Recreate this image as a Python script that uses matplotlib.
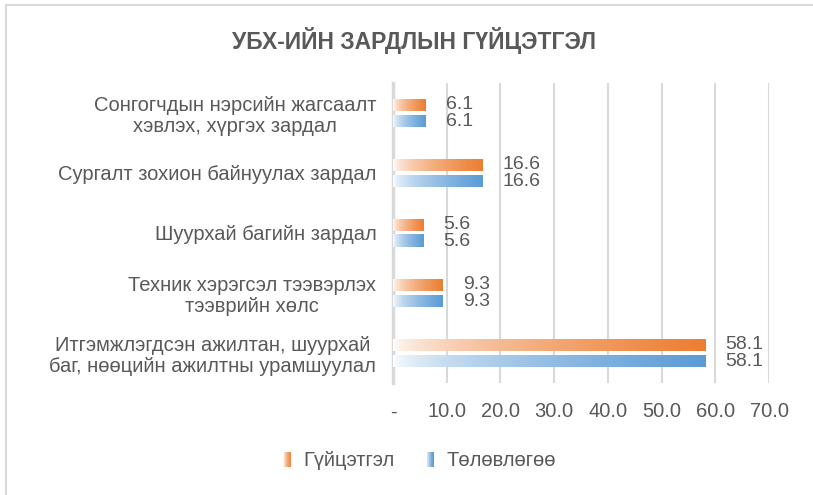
import matplotlib.pyplot as plt
import numpy as np
from matplotlib.colors import to_rgb
from matplotlib.patches import Rectangle
from matplotlib.legend_handler import HandlerBase
from matplotlib.lines import Line2D

plt.rcParams['font.family'] = ['Liberation Sans', 'DejaVu Sans']

categories = [
    'Сонгогчдын нэрсийн жагсаалт\nхэвлэх, хүргэх зардал',
    'Сургалт зохион байнуулах зардал',
    'Шуурхай багийн зардал',
    'Техник хэрэгсэл тээвэрлэх\nтээврийн хөлс',
    'Итгэмжлэгдсэн ажилтан, шуурхай\nбаг, нөөцийн ажилтны урамшуулал',
]
actual = [6.1, 16.6, 5.6, 9.3, 58.1]      # Гүйцэтгэл
planned = [6.1, 16.6, 5.6, 9.3, 58.1]     # Төлөвлөгөө
xticks = [0, 10, 20, 30, 40, 50, 60, 70]
xtick_labels = ['-', '10.0', '20.0', '30.0', '40.0', '50.0', '60.0', '70.0']

ORANGE = '#ED7D31'
BLUE = '#5B9BD5'
TEXT = '#595959'
GRID = '#D9D9D9'
FS = 14.5


def gradient(color, n=256):
    t = np.linspace(0, 1, n) ** 0.6
    c = np.array(to_rgb(color))
    rgb = np.ones(3)[None, :] * (1 - t[:, None]) + c[None, :] * t[:, None]
    return rgb[None, :, :]


class GradHandler(HandlerBase):
    def create_artists(self, legend, orig, xd, yd, w, h, fs, trans):
        col = orig.get_facecolor()
        n = 8
        arts = []
        for i in range(n):
            t = ((i + 1) / n) ** 0.6
            c = np.ones(3) * (1 - t) + np.array(col[:3]) * t
            arts.append(Rectangle((xd + i * w / n, yd), w / n, h,
                                  fc=c, ec='none', transform=trans))
        return arts


fig = plt.figure(figsize=(8.13, 4.95), dpi=100)
ax = fig.add_axes([393 / 813, 1 - 383 / 495, (769 - 393) / 813, 300 / 495])

y = np.arange(len(categories))
bh = 0.2
off = 0.135
for i in range(len(categories)):
    yo = y[i] - off
    yb = y[i] + off
    ax.imshow(gradient(ORANGE), extent=[0, actual[i], yo + bh / 2, yo - bh / 2],
              aspect='auto', interpolation='bilinear', zorder=3)
    ax.imshow(gradient(BLUE), extent=[0, planned[i], yb + bh / 2, yb - bh / 2],
              aspect='auto', interpolation='bilinear', zorder=3)
    ax.text(actual[i] + 3.7, yo, f'{actual[i]:.1f}', va='center', ha='left',
            fontsize=FS - 0.5, color=TEXT)
    ax.text(planned[i] + 3.7, yb, f'{planned[i]:.1f}', va='center', ha='left',
            fontsize=FS - 0.5, color=TEXT)

ax.set_xlim(0, 70)
ax.set_ylim(len(categories) - 0.5, -0.5)
ax.set_yticks(y)
ax.set_yticklabels(categories, fontsize=FS, color=TEXT, ha='right',
                   multialignment='center', linespacing=1.1)
ax.set_xticks(xticks)
ax.set_xticklabels(xtick_labels, fontsize=FS, color=TEXT)
ax.get_xticklabels()[0].set_x(-1.0)
ax.tick_params(axis='x', length=0, pad=14)
ax.tick_params(axis='y', length=0, pad=12)
ax.grid(axis='x', color=GRID, linewidth=1.5, zorder=0)
for s in ['top', 'right', 'bottom']:
    ax.spines[s].set_visible(False)
ax.spines['left'].set_color(GRID)
ax.spines['left'].set_linewidth(2.5)
ax.set_axisbelow(True)

fig.text(414 / 813, 1 - 40 / 495, 'УБХ-ИЙН ЗАРДЛЫН ГҮЙЦЭТГЭЛ', ha='center', va='center',
         fontsize=16.5, fontweight='bold', color=TEXT)

handles = [Rectangle((0, 0), 1, 1, fc=ORANGE), Rectangle((0, 0), 1, 1, fc=BLUE)]
fig.legend(handles, ['Гүйцэтгэл', 'Төлөвлөгөө'], loc='center',
           bbox_to_anchor=(420 / 813, 1 - 461 / 495), ncol=2, frameon=False,
           fontsize=FS, labelcolor=TEXT, handlelength=0.35, handleheight=0.7,
           handletextpad=0.6, columnspacing=1.6,
           handler_map={Rectangle: GradHandler()})

fig.add_artist(Line2D([6 / 813, 1], [1 - 5 / 495] * 2, transform=fig.transFigure,
                      color=GRID, linewidth=1.5))
fig.add_artist(Line2D([6 / 813] * 2, [0, 1 - 5 / 495], transform=fig.transFigure,
                      color=GRID, linewidth=1.5))

fig.savefig('out.png', dpi=100)
